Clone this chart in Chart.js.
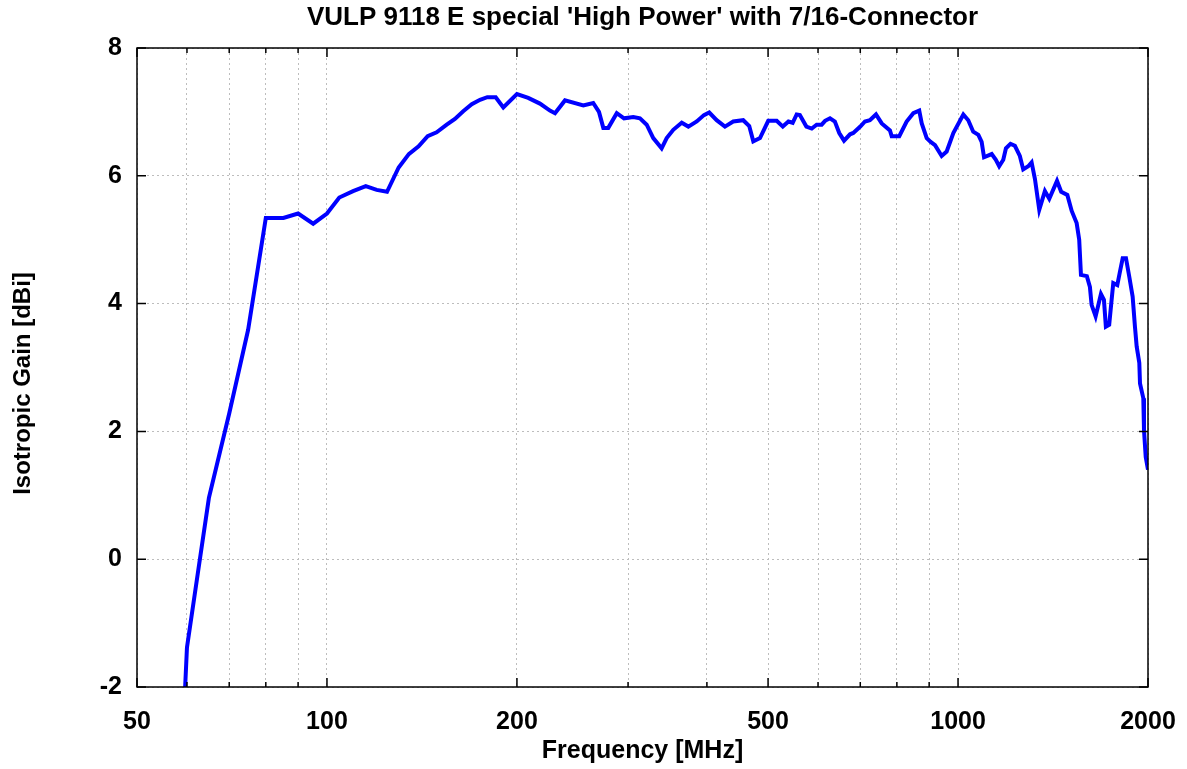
<!DOCTYPE html>
<html>
<head>
<meta charset="utf-8">
<script src="https://cdn.jsdelivr.net/npm/chart.js@4"></script>
<style>
  html, body { margin: 0; padding: 0; background: #fff; }
  #wrap { width: 1187px; height: 769px; }
</style>
</head>
<body>
<div id="wrap"><canvas id="gain-chart"></canvas></div>
<script>
const FREQ_MHZ = [
  59.6, 60, 62.7, 65, 70, 75, 80, 85.3, 90, 95.1, 100, 104.6, 110, 115.2, 119.9, 124.5,
  129.9, 134.8, 139.7, 144.4, 149.2, 154.8, 159.5, 164.4, 169.6, 174.8, 179.5, 185.1, 190.3, 200,
  208.4, 217.5, 225.6, 229.8, 238.3, 254.8, 264.2, 269.8, 274.1, 279.1, 287.9, 295.6, 305.8, 313.3,
  321.1, 328.9, 339.1, 345.4, 353.8, 364.9, 373.8, 385.4, 395.7, 403.4, 414.5, 427.2, 440.3, 456.7,
  466.8, 473.8, 485.5, 500.3, 516, 527.6, 538.6, 547, 555, 561.5, 575, 586.4, 597, 608, 615.6, 626.8,
  638, 648.3, 659.7, 674.3, 682.4, 700, 712, 725, 741.3, 757, 780, 785, 807, 829, 849.5, 868, 876,
  892, 905, 919.5, 942, 959.4, 983, 1019.5, 1038, 1057, 1077, 1090, 1099.5, 1130.7, 1148, 1162,
  1179.5, 1191, 1211, 1230.6, 1253, 1268.6, 1292, 1308, 1324, 1345, 1373, 1395, 1435, 1457, 1490,
  1514, 1541.6, 1556, 1566, 1600, 1618, 1628, 1652, 1684.5, 1703, 1715, 1736, 1747, 1762, 1788,
  1805.5, 1823.5, 1845.6, 1868, 1891, 1907, 1919, 1937.6, 1942.5, 1966, 1971, 1983.5, 2000
];
const GAIN_DBI = [
  -2.0, -1.38, -0.09, 0.96, 2.28, 3.59, 5.34, 5.34, 5.41, 5.25, 5.41, 5.66, 5.76, 5.84, 5.78, 5.75,
  6.13, 6.34, 6.46, 6.62, 6.68, 6.80, 6.89, 7.01, 7.12, 7.19, 7.23, 7.23, 7.07, 7.28,
  7.22, 7.13, 7.02, 6.98, 7.18, 7.10, 7.14, 7.0, 6.75, 6.75, 6.98, 6.90, 6.92, 6.90,
  6.80, 6.59, 6.43, 6.59, 6.72, 6.83, 6.77, 6.85, 6.95, 6.99, 6.87, 6.77, 6.85, 6.87,
  6.78, 6.54, 6.59, 6.86, 6.86, 6.77, 6.85, 6.83, 6.96, 6.95, 6.77, 6.74, 6.80, 6.80, 6.86, 6.90,
  6.85, 6.67, 6.55, 6.65, 6.67, 6.77, 6.85, 6.87, 6.96, 6.82, 6.71, 6.62, 6.62, 6.85, 6.98, 7.02, 6.82,
  6.59, 6.53, 6.48, 6.31, 6.38, 6.67, 6.96, 6.87, 6.69, 6.64, 6.53, 6.29, 6.34, 6.25, 6.15,
  6.25, 6.43, 6.50, 6.47, 6.31, 6.10, 6.15, 6.21, 5.95, 5.47, 5.76, 5.64, 5.92, 5.75, 5.70,
  5.45, 5.26, 5.0, 4.45, 4.43, 4.26, 3.98, 3.80, 4.15, 4.06, 3.64, 3.67, 3.95, 4.32, 4.29,
  4.50, 4.71, 4.71, 4.42, 4.11, 3.64, 3.33, 3.07, 2.75, 2.52, 2.02, 1.60, 1.40
];

const X_TICKS = [50, 60, 70, 80, 90, 100, 200, 300, 400, 500, 600, 700, 800, 900, 1000, 2000];
const X_LABELS = [50, 100, 200, 500, 1000, 2000];
const Y_MIN = -2;
const Y_MAX = 8;
const Y_STEP = 2;

const TITLE = "VULP 9118 E special 'High Power' with 7/16-Connector";
const Y_TITLE = 'Isotropic Gain [dBi]';
const FONT = "'Liberation Sans', Arial, sans-serif";

Chart.defaults.font.family = FONT;
Chart.defaults.font.weight = 'bold';
Chart.defaults.color = '#000';

// box around the plot with small inward tick marks, plus the two titles
// that are not centred where Chart.js would put them
const framePlugin = {
  id: 'frame',
  afterDraw(chart) {
    const { ctx, chartArea: a, scales } = chart;
    ctx.save();
    ctx.strokeStyle = '#000';
    ctx.lineWidth = 1.5;
    ctx.strokeRect(a.left, a.top, a.right - a.left, a.bottom - a.top);
    ctx.beginPath();
    X_TICKS.forEach(v => {
      const x = scales.x.getPixelForValue(v);
      const len = X_LABELS.includes(v) ? 9 : 5;
      ctx.moveTo(x, a.bottom); ctx.lineTo(x, a.bottom - len);
      ctx.moveTo(x, a.top); ctx.lineTo(x, a.top + len);
    });
    scales.y.ticks.forEach(t => {
      const y = scales.y.getPixelForValue(t.value);
      ctx.moveTo(a.left, y); ctx.lineTo(a.left + 9, y);
      ctx.moveTo(a.right, y); ctx.lineTo(a.right - 9, y);
    });
    ctx.stroke();

    ctx.fillStyle = '#000';
    ctx.textAlign = 'center';
    ctx.textBaseline = 'middle';
    ctx.font = 'bold 26px ' + FONT;
    ctx.fillText(TITLE, (a.left + a.right) / 2, 18);

    ctx.translate(23, (a.top + a.bottom) / 2 + 16);
    ctx.rotate(-Math.PI / 2);
    ctx.font = 'bold 24px ' + FONT;
    ctx.fillText(Y_TITLE, 0, 0);
    ctx.restore();
  }
};

const ctx = document.getElementById('gain-chart').getContext('2d');
new Chart(ctx, {
  type: 'line',
  data: {
    datasets: [{
      label: 'Isotropic Gain',
      data: FREQ_MHZ.map((f, i) => ({ x: f, y: GAIN_DBI[i] })),
      borderColor: '#0000ff',
      borderWidth: 4,
      pointRadius: 0,
      tension: 0,
      fill: false
    }]
  },
  options: {
    responsive: true,
    maintainAspectRatio: false,
    animation: false,
    layout: { padding: { left: 0, right: 39, top: 48, bottom: 0 } },
    plugins: {
      legend: { display: false },
      tooltip: { enabled: false },
      title: { display: false }
    },
    scales: {
      x: {
        type: 'logarithmic',
        min: 50,
        max: 2000,
        afterBuildTicks: s => { s.ticks = X_TICKS.map(v => ({ value: v })); },
        afterFit: s => { s.height = 82; s.paddingLeft = 0; s.paddingRight = 0; },
        grid: { color: '#bdbdbd', lineWidth: 1, drawTicks: false },
        border: { display: false, dash: [2, 3] },
        ticks: {
          autoSkip: false,
          maxRotation: 0,
          padding: 20,
          font: { size: 25, weight: 'bold' },
          callback: v => (X_LABELS.includes(v) ? String(v) : '')
        },
        title: {
          display: true,
          text: 'Frequency [MHz]',
          font: { size: 25, weight: 'bold' },
          padding: { top: 0, bottom: 3 }
        }
      },
      y: {
        min: Y_MIN,
        max: Y_MAX,
        afterFit: s => { s.width = 137; s.paddingTop = 0; s.paddingBottom = 0; },
        grid: { color: '#bdbdbd', lineWidth: 1, drawTicks: false },
        border: { display: false, dash: [2, 3] },
        ticks: {
          stepSize: Y_STEP,
          padding: 15,
          font: { size: 25, weight: 'bold' }
        }
      }
    }
  },
  plugins: [framePlugin]
});
</script>
</body>
</html>
